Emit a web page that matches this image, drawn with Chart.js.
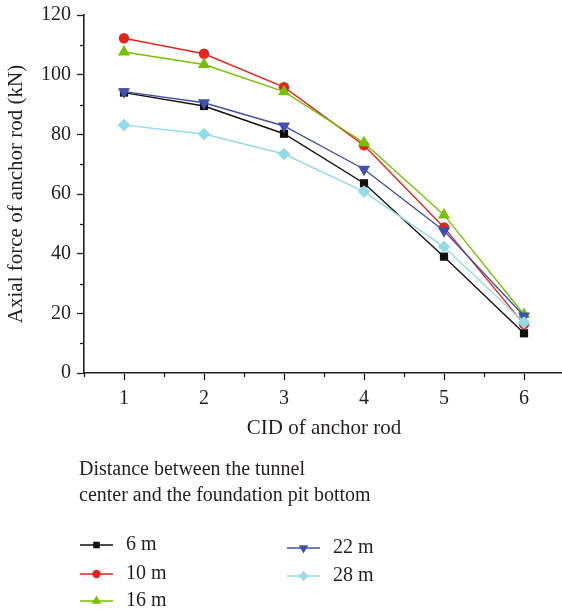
<!DOCTYPE html>
<html><head><meta charset="utf-8">
<script src="https://cdn.jsdelivr.net/npm/chart.js@4"></script>
<style>html,body{margin:0;padding:0;background:#fff;overflow:hidden;} #wrap{position:relative;width:562px;height:611px;overflow:hidden;}</style>
</head><body><div id="wrap"><canvas id="c" width="571" height="611"></canvas></div>
<script>
const categories = [1, 2, 3, 4, 5, 6];
const seriesNames = ['6 m', '10 m', '16 m', '22 m', '28 m'];
const s6m  = [94.0, 89.5, 80.2, 63.6, 39.0, 13.3];
const s10m = [112.2, 107.0, 95.8, 76.3, 48.8, 16.4];
const s16m = [107.6, 103.4, 94.3, 77.2, 53.0, 19.6];
const s22m = [94.3, 90.6, 82.8, 68.3, 47.7, 19.1];
const s28m = [83.1, 80.1, 73.4, 60.8, 42.3, 16.9];
const yTickLabels = [0, 20, 40, 60, 80, 100, 120];
const xTickLabels = [1, 2, 3, 4, 5, 6];
const legendTitle = ['Distance between the tunnel', 'center and the foundation pit bottom'];
const xTitle = 'CID of anchor rod';
const yTitle = 'Axial force of anchor rod (kN)';

const FONT = '"Liberation Serif", "Times New Roman", serif';
const INK = '#231f20';
const seriesValues = [s6m, s10m, s16m, s22m, s28m];
const styles = [
  {color: '#111111', pointStyle: 'rect', radius: 5.8, rotation: 0},
  {color: '#e1261c', pointStyle: 'circle', radius: 5.2, rotation: 0},
  {color: '#76c100', pointStyle: 'triangle', radius: 7, rotation: 0},
  {color: '#4251a8', pointStyle: 'triangle', radius: 7, rotation: 180},
  {color: '#92dbe8', pointStyle: 'rectRot', radius: 6.3, rotation: 0}
];

const datasets = seriesNames.map((name, i) => ({
  label: name,
  data: categories.map((c, j) => ({x: c, y: seriesValues[i][j]})),
  borderColor: styles[i].color,
  backgroundColor: styles[i].color,
  pointBackgroundColor: styles[i].color,
  pointBorderColor: styles[i].color,
  pointBorderWidth: 0,
  borderWidth: 1.4,
  pointStyle: styles[i].pointStyle,
  pointRadius: styles[i].radius,
  pointRotation: styles[i].rotation,
  pointHoverRadius: styles[i].radius,
  tension: 0,
  order: seriesNames.length - 1 - i
}));

const minorTicks = {
  id: 'minorTicks',
  afterDraw(chart) {
    const ctx = chart.ctx;
    ctx.save();
    ctx.strokeStyle = INK;
    ctx.lineWidth = 1.3;
    const xs = chart.scales.x, ys = chart.scales.y;
    xs.ticks.forEach(t => {
      if (!xTickLabels.includes(t.value)) {
        const px = Math.round(xs.getPixelForValue(t.value)) + 0.5;
        ctx.beginPath(); ctx.moveTo(px, xs.top); ctx.lineTo(px, xs.top + 4); ctx.stroke();
      }
    });
    ys.ticks.forEach(t => {
      if (!yTickLabels.includes(t.value)) {
        const py = Math.round(ys.getPixelForValue(t.value)) + 0.5;
        ctx.beginPath(); ctx.moveTo(ys.right, py); ctx.lineTo(ys.right - 4, py); ctx.stroke();
      }
    });
    ctx.restore();
  }
};

const customLegend = {
  id: 'customLegend',
  afterDraw(chart) {
    const ctx = chart.ctx;
    ctx.save();
    ctx.fillStyle = INK;
    ctx.font = '20px ' + FONT;
    ctx.textBaseline = 'middle';
    ctx.textAlign = 'left';
    ctx.fillText(legendTitle[0], 79, 470);
    ctx.fillText(legendTitle[1], 79, 496);
    const pos = [
      {x: 80, y: 545, tx: 126}, {x: 80, y: 574, tx: 126}, {x: 80, y: 601, tx: 126},
      {x: 287, y: 548, tx: 333}, {x: 287, y: 576, tx: 333}
    ];
    chart.data.datasets.forEach((ds, i) => {
      const p = pos[i];
      ctx.strokeStyle = ds.borderColor;
      ctx.lineWidth = 1.4;
      ctx.beginPath(); ctx.moveTo(p.x, p.y); ctx.lineTo(p.x + 33, p.y); ctx.stroke();
      ctx.fillStyle = ds.pointBackgroundColor;
      Chart.helpers.drawPoint(ctx, {pointStyle: ds.pointStyle, radius: ds.pointRadius * 0.8, rotation: ds.pointRotation, borderWidth: 0}, p.x + 16.5, p.y);
      ctx.fillStyle = INK;
      ctx.fillText(ds.label, p.tx, p.y);
    });
    ctx.restore();
  }
};

new Chart(document.getElementById('c'), {
  type: 'line',
  data: {datasets},
  options: {
    responsive: false,
    devicePixelRatio: 1,
    animation: false,
    layout: {padding: {top: 15, right: 0, bottom: 168, left: 0}},
    plugins: {legend: {display: false}, tooltip: {enabled: false}},
    scales: {
      x: {
        type: 'linear', min: 0.5, max: 6.5,
        afterFit: s => { s.height = 70; s.paddingLeft = 0; s.paddingRight = 0; },
        ticks: {
          stepSize: 0.5, autoSkip: false, maxRotation: 0, padding: 7,
          color: INK, font: {family: FONT, size: 20},
          callback: v => xTickLabels.includes(v) ? String(v) : ''
        },
        grid: {
          drawOnChartArea: false, drawTicks: true, tickLength: 7, tickWidth: 1.3,
          tickColor: c => (c.tick && xTickLabels.includes(c.tick.value)) ? INK : 'rgba(0,0,0,0)'
        },
        border: {color: INK, width: 1.6},
        title: {display: true, text: xTitle, color: INK, font: {family: FONT, size: 21}, padding: {top: 0, bottom: 2}}
      },
      y: {
        type: 'linear', min: 0, max: 120,
        afterFit: s => { s.width = 84; s.paddingTop = 0; s.paddingBottom = 0; },
        ticks: {
          stepSize: 10, autoSkip: false, padding: 6,
          color: INK, font: {family: FONT, size: 20},
          callback: v => yTickLabels.includes(v) ? String(v) : ''
        },
        grid: {
          drawOnChartArea: false, drawTicks: true, tickLength: 7, tickWidth: 1.3,
          tickColor: c => (c.tick && yTickLabels.includes(c.tick.value)) ? INK : 'rgba(0,0,0,0)'
        },
        border: {color: INK, width: 1.6},
        title: {display: true, text: yTitle, color: INK, font: {family: FONT, size: 21}, padding: {top: 4, bottom: 0}}
      }
    }
  },
  plugins: [minorTicks, customLegend]
});
</script></body></html>
